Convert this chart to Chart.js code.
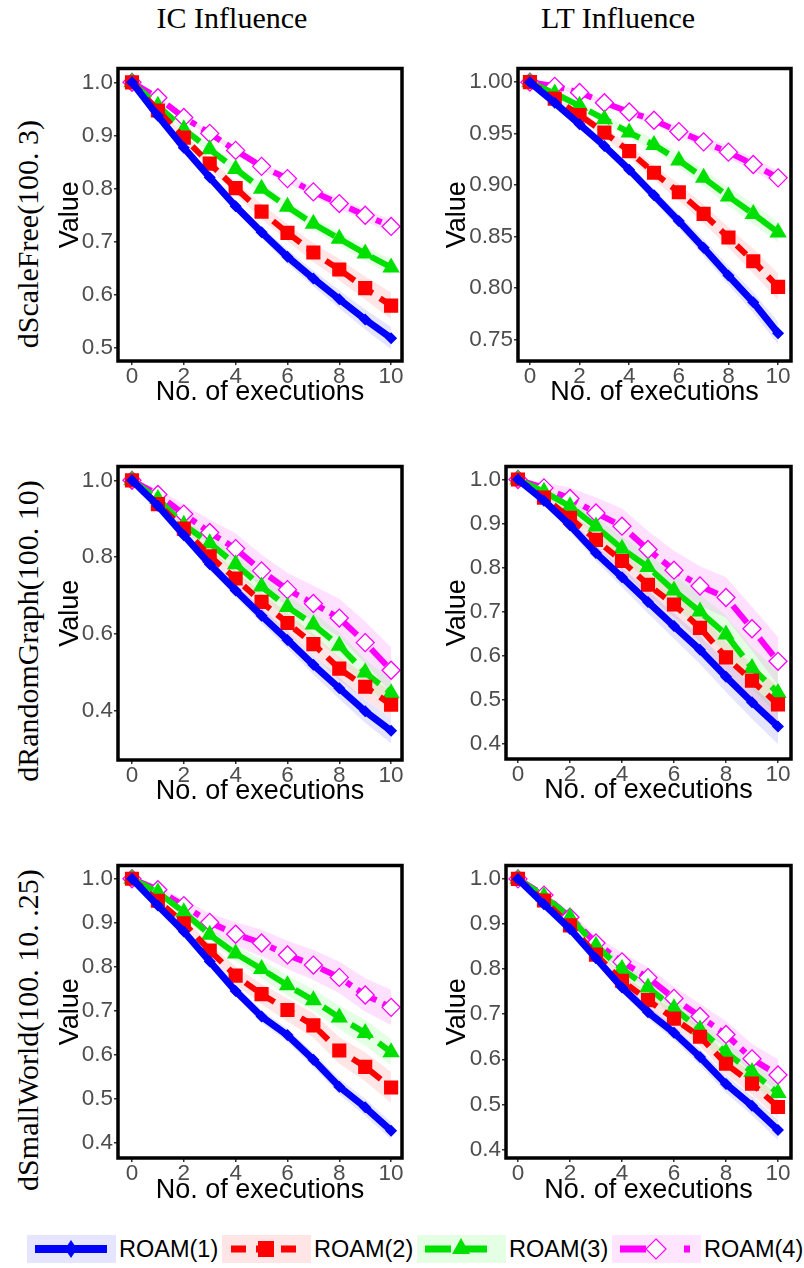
<!DOCTYPE html>
<html>
<head>
<meta charset="utf-8">
<script src="https://cdn.jsdelivr.net/npm/chart.js@4.4.1/dist/chart.umd.min.js"></script>
<style>
  body { margin: 0; width: 804px; height: 1268px; background: #fff; position: relative; overflow: hidden;
         font-family: "Liberation Sans", Arial, sans-serif; }
  canvas { position: absolute; }
  .col { position: absolute; top: 0; width: 300px; text-align: center; line-height: 36px;
         font-family: "Liberation Serif", "Times New Roman", serif; font-size: 30px; color: #000; }
  .row { position: absolute; width: 420px; height: 36px; line-height: 36px; text-align: center;
         font-family: "Liberation Serif", "Times New Roman", serif; font-size: 30px; color: #000;
         transform: rotate(-90deg); transform-origin: 50% 50%; white-space: nowrap; }
  .leg { position: absolute; top: 1235px; height: 28px; display: flex; align-items: center; }
  .leg .key { width: 89px; height: 28px; }
  .leg span { font-size: 23.5px; margin-left: 3px; color: #000; }
</style>
</head>
<body>
<div class="col" style="left:82px">IC Influence</div>
<div class="col" style="left:468px">LT Influence</div>
<div class="row" style="left:-182px;top:216px">dScaleFree(100. 3)</div>
<div class="row" style="left:-182px;top:613px">dRandomGraph(100. 10)</div>
<div class="row" style="left:-182px;top:1012px">dSmallWorld(100. 10. .25)</div>

<div class="leg" style="left:27px">
  <svg class="key" viewBox="0 0 89 28"><rect width="89" height="28" fill="#e5e5ff"/>
    <line x1="8" y1="14" x2="80" y2="14" stroke="#0000ff" stroke-width="8"/>
    <polygon points="44,5 50,14 44,23 38,14" fill="#0000ff"/></svg>
  <span>ROAM(1)</span></div>
<div class="leg" style="left:222px">
  <svg class="key" viewBox="0 0 89 28"><rect width="89" height="28" fill="#ffe5e5"/>
    <line x1="9" y1="14" x2="80" y2="14" stroke="#ff0000" stroke-width="7" stroke-dasharray="15 10"/>
    <rect x="36" y="6" width="16" height="16" fill="#ff0000"/></svg>
  <span>ROAM(2)</span></div>
<div class="leg" style="left:417px">
  <svg class="key" viewBox="0 0 89 28"><rect width="89" height="28" fill="#e5ffe5"/>
    <line x1="8" y1="14" x2="80" y2="14" stroke="#00e000" stroke-width="7" stroke-dasharray="26 10"/>
    <polygon points="44,3 53,19 35,19" fill="#00e000"/></svg>
  <span>ROAM(3)</span></div>
<div class="leg" style="left:612px">
  <svg class="key" viewBox="0 0 89 28"><rect width="89" height="28" fill="#ffe5ff"/>
    <line x1="8" y1="14" x2="80" y2="14" stroke="#ff00ff" stroke-width="7" stroke-dasharray="26 38 6 20"/>
    <polygon points="44,4 54,14 44,24 34,14" fill="#fff" stroke="#ff00ff" stroke-width="1.2"/></svg>
  <span>ROAM(4)</span></div>

<script>
// x values: number of executions
const execs = [0, 1, 2, 3, 4, 5, 6, 7, 8, 9, 10];
const xTicks = [0, 2, 4, 6, 8, 10];
const seriesNames = ['ROAM(1)', 'ROAM(2)', 'ROAM(3)', 'ROAM(4)'];

// IC influence, dScaleFree(100. 3)
const icScaleFree = [
  [1.0, 0.937, 0.877, 0.821, 0.767, 0.718, 0.672, 0.631, 0.592, 0.554, 0.519],
  [1.0, 0.947, 0.896, 0.847, 0.801, 0.757, 0.717, 0.680, 0.648, 0.613, 0.580],
  [1.0, 0.956, 0.912, 0.874, 0.837, 0.800, 0.766, 0.734, 0.706, 0.678, 0.652],
  [1.0, 0.971, 0.934, 0.904, 0.872, 0.842, 0.819, 0.794, 0.772, 0.750, 0.729]
];
const icScaleFreeBand = [
  [0, 0.004, 0.006, 0.008, 0.009, 0.011, 0.013, 0.015, 0.017, 0.019, 0.021],
  [0, 0.005, 0.008, 0.010, 0.012, 0.014, 0.016, 0.018, 0.020, 0.022, 0.025],
  [0, 0.004, 0.006, 0.008, 0.009, 0.010, 0.011, 0.012, 0.013, 0.014, 0.015],
  [0, 0.003, 0.004, 0.005, 0.006, 0.007, 0.008, 0.009, 0.010, 0.011, 0.012]
];
const icScaleFreeTicks = [0.5, 0.6, 0.7, 0.8, 0.9, 1.0];

// LT influence, dScaleFree(100. 3)
const ltScaleFree = [
  [1.0, 0.980, 0.959, 0.938, 0.915, 0.890, 0.865, 0.839, 0.812, 0.786, 0.756],
  [1.0, 0.984, 0.968, 0.951, 0.933, 0.912, 0.893, 0.872, 0.849, 0.826, 0.801],
  [1.0, 0.989, 0.977, 0.964, 0.951, 0.939, 0.924, 0.907, 0.889, 0.872, 0.854],
  [1.0, 0.996, 0.990, 0.980, 0.971, 0.963, 0.952, 0.942, 0.932, 0.920, 0.907]
];
const ltScaleFreeBand = [
  [0, 0.002, 0.003, 0.004, 0.005, 0.006, 0.007, 0.008, 0.009, 0.010, 0.011],
  [0, 0.002, 0.004, 0.005, 0.006, 0.007, 0.008, 0.009, 0.010, 0.012, 0.013],
  [0, 0.002, 0.003, 0.004, 0.005, 0.006, 0.007, 0.008, 0.009, 0.010, 0.010],
  [0, 0.002, 0.002, 0.003, 0.004, 0.004, 0.005, 0.005, 0.006, 0.006, 0.007]
];
const ltScaleFreeTicks = [0.75, 0.80, 0.85, 0.90, 0.95, 1.00];

// IC influence, dRandomGraph(100. 10)
const icRandomGraph = [
  [1.0, 0.934, 0.857, 0.781, 0.713, 0.647, 0.584, 0.519, 0.458, 0.398, 0.347],
  [1.0, 0.938, 0.874, 0.802, 0.744, 0.683, 0.628, 0.573, 0.509, 0.462, 0.415],
  [1.0, 0.951, 0.884, 0.836, 0.781, 0.723, 0.670, 0.624, 0.569, 0.499, 0.445],
  [1.0, 0.963, 0.912, 0.864, 0.822, 0.764, 0.715, 0.679, 0.641, 0.577, 0.505]
];
const icRandomGraphBand = [
  [0, 0.008, 0.012, 0.015, 0.017, 0.020, 0.022, 0.025, 0.028, 0.030, 0.033],
  [0, 0.010, 0.014, 0.018, 0.021, 0.024, 0.026, 0.028, 0.030, 0.033, 0.035],
  [0, 0.010, 0.015, 0.020, 0.024, 0.027, 0.030, 0.032, 0.034, 0.035, 0.036],
  [0, 0.015, 0.025, 0.033, 0.040, 0.042, 0.044, 0.046, 0.050, 0.055, 0.060]
];
const icRandomGraphTicks = [0.4, 0.6, 0.8, 1.0];

// LT influence, dRandomGraph(100. 10)
const ltRandomGraph = [
  [1.0, 0.952, 0.896, 0.833, 0.778, 0.722, 0.667, 0.613, 0.552, 0.494, 0.439],
  [1.0, 0.959, 0.913, 0.863, 0.815, 0.761, 0.716, 0.663, 0.596, 0.543, 0.489],
  [1.0, 0.972, 0.939, 0.893, 0.843, 0.801, 0.748, 0.700, 0.648, 0.572, 0.515],
  [1.0, 0.981, 0.957, 0.924, 0.894, 0.841, 0.794, 0.758, 0.732, 0.661, 0.587]
];
const ltRandomGraphBand = [
  [0, 0.008, 0.014, 0.018, 0.022, 0.026, 0.029, 0.032, 0.035, 0.038, 0.040],
  [0, 0.008, 0.014, 0.018, 0.022, 0.026, 0.029, 0.032, 0.035, 0.038, 0.040],
  [0, 0.010, 0.016, 0.022, 0.027, 0.031, 0.035, 0.039, 0.043, 0.047, 0.050],
  [0, 0.012, 0.025, 0.035, 0.040, 0.042, 0.044, 0.045, 0.046, 0.050, 0.055]
];
const ltRandomGraphTicks = [0.4, 0.5, 0.6, 0.7, 0.8, 0.9, 1.0];

// IC influence, dSmallWorld(100. 10. .25)
const icSmallWorld = [
  [1.0, 0.939, 0.880, 0.812, 0.745, 0.687, 0.645, 0.589, 0.528, 0.481, 0.428],
  [1.0, 0.950, 0.899, 0.837, 0.780, 0.738, 0.702, 0.667, 0.610, 0.573, 0.526],
  [1.0, 0.969, 0.924, 0.873, 0.830, 0.795, 0.758, 0.724, 0.685, 0.650, 0.606],
  [1.0, 0.975, 0.939, 0.901, 0.874, 0.854, 0.827, 0.804, 0.776, 0.736, 0.708]
];
const icSmallWorldBand = [
  [0, 0.006, 0.009, 0.011, 0.013, 0.014, 0.015, 0.016, 0.018, 0.019, 0.020],
  [0, 0.008, 0.012, 0.016, 0.020, 0.023, 0.026, 0.028, 0.030, 0.033, 0.035],
  [0, 0.007, 0.011, 0.015, 0.018, 0.021, 0.023, 0.025, 0.027, 0.029, 0.030],
  [0, 0.008, 0.014, 0.020, 0.027, 0.030, 0.032, 0.034, 0.036, 0.038, 0.040]
];
const icSmallWorldTicks = [0.4, 0.5, 0.6, 0.7, 0.8, 0.9, 1.0];

// LT influence, dSmallWorld(100. 10. .25)
const ltSmallWorld = [
  [1.0, 0.944, 0.889, 0.824, 0.759, 0.704, 0.659, 0.605, 0.545, 0.497, 0.443],
  [1.0, 0.952, 0.897, 0.832, 0.774, 0.731, 0.690, 0.650, 0.590, 0.546, 0.494],
  [1.0, 0.961, 0.915, 0.852, 0.800, 0.759, 0.713, 0.666, 0.615, 0.572, 0.525],
  [1.0, 0.964, 0.915, 0.858, 0.816, 0.781, 0.735, 0.695, 0.655, 0.601, 0.565]
];
const ltSmallWorldBand = [
  [0, 0.005, 0.008, 0.010, 0.012, 0.014, 0.016, 0.018, 0.020, 0.021, 0.022],
  [0, 0.006, 0.009, 0.012, 0.015, 0.017, 0.019, 0.021, 0.023, 0.024, 0.025],
  [0, 0.006, 0.010, 0.013, 0.016, 0.018, 0.020, 0.022, 0.024, 0.026, 0.028],
  [0, 0.008, 0.012, 0.016, 0.020, 0.023, 0.026, 0.028, 0.030, 0.033, 0.035]
];
const ltSmallWorldTicks = [0.4, 0.5, 0.6, 0.7, 0.8, 0.9, 1.0];

const colors = ['#0000ff', '#ff0000', '#00e000', '#ff00ff'];
const bandColors = ['rgba(0,0,255,0.10)', 'rgba(255,0,0,0.10)', 'rgba(0,255,0,0.10)', 'rgba(255,0,255,0.12)'];
const dashes = [[], [13, 9], [24, 9], [22, 7, 6, 7]];
const widths = [7, 6, 6, 6];
const pointStyles = ['rectRot', 'rect', 'triangle', 'rectRot'];
const pointSizes = [6, 10, 10, 9];

// frame rectangle (L, T, R, B), y-title centre, x/y range of every panel
const panels = [
  { vals: icScaleFree, band: icScaleFreeBand, ticks: icScaleFreeTicks, dec: 1,
    L: 118, T: 62, R: 402, B: 361, titleX: 70, xTitleY: 393, xmin: -0.54, xmax: 10.42, ymin: 0.476, ymax: 1.026 },
  { vals: ltScaleFree, band: ltScaleFreeBand, ticks: ltScaleFreeTicks, dec: 2,
    L: 518, T: 62, R: 791, B: 361, titleX: 457, xTitleY: 393, xmin: -0.48, xmax: 10.52, ymin: 0.729, ymax: 1.0133 },
  { vals: icRandomGraph, band: icRandomGraphBand, ticks: icRandomGraphTicks, dec: 1,
    L: 118, T: 460, R: 402, B: 760, titleX: 70, xTitleY: 792, xmin: -0.54, xmax: 10.42, ymin: 0.271, ymax: 1.036 },
  { vals: ltRandomGraph, band: ltRandomGraphBand, ticks: ltRandomGraphTicks, dec: 1,
    L: 506, T: 460, R: 791, B: 759, titleX: 457, xTitleY: 791, xmin: -0.46, xmax: 10.5, ymin: 0.365, ymax: 1.0296 },
  { vals: icSmallWorld, band: icSmallWorldBand, ticks: icSmallWorldTicks, dec: 1,
    L: 118, T: 859, R: 402, B: 1158, titleX: 70, xTitleY: 1191, xmin: -0.54, xmax: 10.42, ymin: 0.366, ymax: 1.030 },
  { vals: ltSmallWorld, band: ltSmallWorldBand, ticks: ltSmallWorldTicks, dec: 1,
    L: 506, T: 859, R: 791, B: 1158, titleX: 457, xTitleY: 1191, xmin: -0.46, xmax: 10.5, ymin: 0.381, ymax: 1.0297 }
];

const framePlugin = {
  id: 'frame',
  afterDraw(chart) {
    const { ctx, chartArea: a } = chart;
    ctx.save();
    ctx.strokeStyle = '#000';
    ctx.lineWidth = 3.5;
    ctx.strokeRect(a.left, a.top, a.right - a.left, a.bottom - a.top);
    ctx.restore();
  }
};

function makePanel(p) {
  const axisW = p.L - p.titleX + 20;
  const axisH = p.xTitleY + 20 - p.B;
  const left = p.L - axisW, top = p.T - 8;
  const w = p.R - left + 8, h = p.B + axisH - top;
  const cv = document.createElement('canvas');
  cv.width = w; cv.height = h;
  cv.style.left = left + 'px'; cv.style.top = top + 'px';
  cv.style.width = w + 'px'; cv.style.height = h + 'px';
  document.body.appendChild(cv);

  const datasets = [];
  p.vals.forEach((vals, i) => {
    datasets.push({
      label: seriesNames[i],
      data: execs.map((x, k) => ({ x: x, y: vals[k] })),
      borderColor: colors[i], borderWidth: widths[i], borderDash: dashes[i],
      pointStyle: pointStyles[i], pointRadius: pointSizes[i],
      pointBackgroundColor: i === 3 ? '#fff' : colors[i],
      pointBorderColor: colors[i], pointBorderWidth: i === 3 ? 1.3 : 0,
      fill: false, tension: 0, order: 0
    });
  });
  p.vals.forEach((vals, i) => {
    datasets.push({
      data: execs.map((x, k) => ({ x: x, y: vals[k] - p.band[i][k] })),
      borderWidth: 0, pointRadius: 0, fill: false, order: 1
    });
    datasets.push({
      data: execs.map((x, k) => ({ x: x, y: vals[k] + p.band[i][k] })),
      borderWidth: 0, pointRadius: 0, backgroundColor: bandColors[i], fill: '-1', order: 1
    });
  });

  new Chart(cv, {
    type: 'line',
    data: { datasets: datasets },
    options: {
      responsive: false, animation: false,
      layout: { autoPadding: false, padding: { left: 0, top: 8, right: 8, bottom: 0 } },
      plugins: { legend: { display: false }, tooltip: { enabled: false } },
      scales: {
        x: {
          type: 'linear', min: p.xmin, max: p.xmax,
          afterFit: s => { s.height = axisH; },
          afterBuildTicks: s => { s.ticks = xTicks.map(v => ({ value: v })); },
          ticks: { color: '#4d4d4d', font: { family: 'Liberation Sans', size: 22.5 }, padding: -2, callback: v => v },
          grid: { drawOnChartArea: false, drawTicks: true, tickLength: 4, color: '#333', lineWidth: 1.5 },
          border: { display: false },
          title: { display: true, text: 'No. of executions', color: '#000',
                   font: { family: 'Liberation Sans', size: 27 }, padding: { top: 0, bottom: 4 } }
        },
        y: {
          min: p.ymin, max: p.ymax,
          afterFit: s => { s.width = axisW; },
          afterBuildTicks: s => { s.ticks = p.ticks.map(v => ({ value: v })); },
          ticks: { color: '#4d4d4d', font: { family: 'Liberation Sans', size: 22.5 }, padding: 1,
                   callback: v => v.toFixed(p.dec) },
          grid: { drawOnChartArea: false, drawTicks: true, tickLength: 4, color: '#333', lineWidth: 1.5 },
          border: { display: false },
          title: { display: true, text: 'Value', color: '#000',
                   font: { family: 'Liberation Sans', size: 27 }, padding: { top: 4, bottom: 0 } }
        }
      }
    },
    plugins: [framePlugin]
  });
}

panels.forEach(makePanel);
</script>
</body>
</html>
